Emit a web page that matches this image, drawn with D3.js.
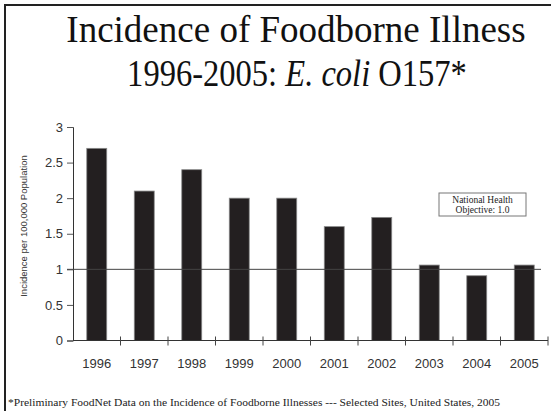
<!DOCTYPE html>
<html><head><meta charset="utf-8">
<script src="https://cdn.jsdelivr.net/npm/d3@7"></script>
<style>body{margin:0;background:#fff}svg{display:block}
.serif{font-family:"Liberation Serif","Times New Roman",Times,"DejaVu Serif",serif}
.sans{font-family:"Liberation Sans",Arial,Helvetica,sans-serif}
</style>
</head><body>
<script>
const years = ["1996","1997","1998","1999","2000","2001","2002","2003","2004","2005"];
const incidence = [2.7, 2.1, 2.4, 2.0, 2.0, 1.6, 1.73, 1.06, 0.91, 1.06];
const yTicks = [0, 0.5, 1, 1.5, 2, 2.5, 3];
const objective = 1.0;

const W = 551, H = 411;
const svg = d3.select("body").append("svg").attr("width", W).attr("height", H);

// frame (top and left)
svg.append("line").attr("x1",5).attr("x2",W).attr("y1",5).attr("y2",5).attr("stroke","#222").attr("stroke-width",2);
svg.append("line").attr("x1",5).attr("x2",5).attr("y1",4).attr("y2",H).attr("stroke","#222").attr("stroke-width",2);

// title
svg.append("text").attr("class","serif").attr("text-anchor","middle")
  .attr("x",296).attr("y",42).attr("font-size",37).attr("fill","#111")
  .text("Incidence of Foodborne Illness");
const g2 = svg.append("g");
const t2 = g2.append("text").attr("class","serif").attr("text-anchor","middle")
  .attr("x",0).attr("y",0).attr("font-size",37).attr("fill","#111");
t2.append("tspan").text("1996-2005: ");
t2.append("tspan").attr("font-style","italic").text("E. coli");
t2.append("tspan").text(" O157*");
const natural = t2.node().getComputedTextLength();
g2.attr("transform",`translate(297,86) scale(${340/natural},1)`);

const x = d3.scaleBand().domain(years).range([73, 548]).paddingInner(0.58).paddingOuter(0.29);
const y = d3.scaleLinear().domain([0, 3]).range([340.5, 127]);

// y axis
const yAxis = d3.axisLeft(y).tickValues(yTicks).tickSize(6).tickPadding(4).tickFormat(d => d3.format("")(d));
const gy = svg.append("g").attr("transform","translate(73,0)").call(yAxis);
gy.select(".domain").attr("stroke","#333");
gy.selectAll(".tick line").attr("stroke","#555");
gy.selectAll(".tick text").attr("class","sans").attr("font-family",null).attr("font-size",13).attr("fill","#333");

// bars
svg.append("g").selectAll("rect").data(incidence).join("rect")
  .attr("x",(d,i)=>x(years[i])).attr("width",x.bandwidth())
  .attr("y",d=>y(d)).attr("height",d=>y(0)-y(d))
  .attr("fill","#231f20").attr("stroke","#888").attr("stroke-width",0.8);

// objective line
svg.append("line").attr("x1",67).attr("x2",541).attr("y1",y(objective)).attr("y2",y(objective))
  .attr("stroke","#444").attr("stroke-width",1);

// x axis
const gx = svg.append("g").attr("transform",`translate(0,${y(0)})`);
gx.append("line").attr("x1",73).attr("x2",548).attr("stroke","#333");
const bounds = d3.range(1, years.length+1).map(i => 73 + i*x.step());
gx.selectAll(".xt").data(bounds).join("line").attr("class","xt")
  .attr("x1",d=>d).attr("x2",d=>d).attr("y1",-4).attr("y2",5).attr("stroke","#444");
gx.selectAll(".xl").data(years).join("text").attr("class","xl sans")
  .attr("x",d=>x(d)+x.bandwidth()/2).attr("y",27).attr("text-anchor","middle")
  .attr("font-size",13).attr("fill","#333").text(d=>d);

// y title
svg.append("text").attr("class","sans").attr("transform","translate(27,226) rotate(-90)").attr("text-anchor","middle")
  .attr("font-size",9.5).attr("fill","#333")
  .text("Incidence per 100,000 Population");

// legend box
svg.append("rect").attr("x",439).attr("y",193).attr("width",87).attr("height",23)
  .attr("fill","#fff").attr("stroke","#777").attr("stroke-width",1);
const lt = svg.append("text").attr("class","serif").attr("text-anchor","middle")
  .attr("font-size",9.5).attr("fill","#222");
lt.append("tspan").attr("x",482.5).attr("y",203).text("National Health");
lt.append("tspan").attr("x",482.5).attr("y",213).text("Objective: " + objective.toFixed(1));

// footnote
svg.append("text").attr("class","serif").attr("x",8).attr("y",406)
  .attr("font-size",11).attr("fill","#222")
  .attr("textLength",492).attr("lengthAdjust","spacingAndGlyphs")
  .text("*Preliminary FoodNet Data on the Incidence of Foodborne Illnesses --- Selected Sites, United States, 2005");
</script>
</body></html>
